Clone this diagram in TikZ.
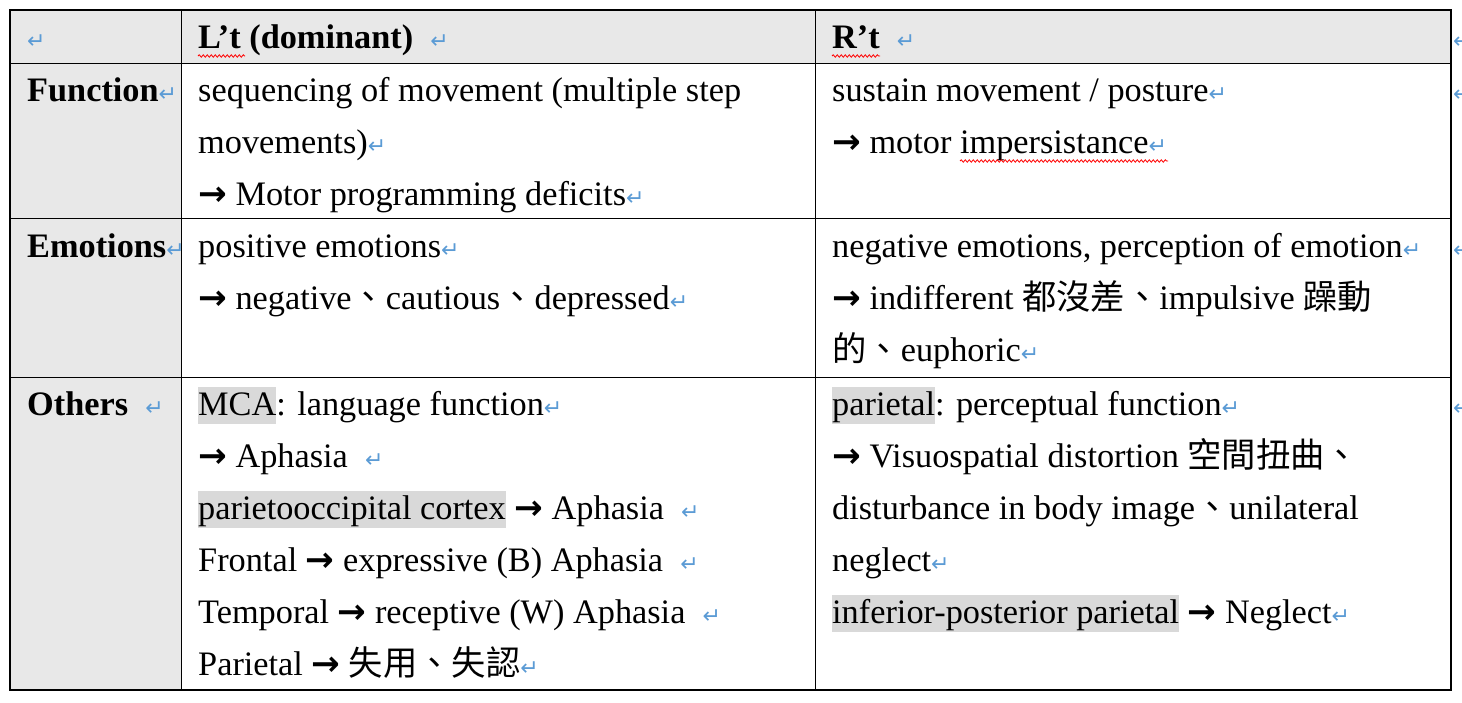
\documentclass[tikz,border=0pt]{standalone}
\usepackage{fontspec}
\setmainfont{Liberation Serif}
\newfontfamily\dejavu{DejaVu Sans}
\newfontfamily\cjk{Noto Sans CJK TC}
\usetikzlibrary{decorations.pathmorphing}
\definecolor{hdrgray}{HTML}{E8E8E8}
\definecolor{hlgray}{HTML}{D9D9D9}
\definecolor{retblue}{HTML}{5B9BD5}
\newcommand{\ret}{\textcolor{retblue}{\dejavu\fontsize{22}{22}\selectfont ↵}}
\newcommand{\ar}{{\dejavu\bfseries →}}
\newcommand{\hlx}[1]{{\setlength{\fboxsep}{0pt}\colorbox{hlgray}{\rule[-9pt]{0pt}{37pt}#1}}}
\begin{document}
\begin{tikzpicture}[x=1pt,y=-1pt,
  txt/.style={anchor=base west,inner sep=0pt,font=\fontsize{34.3}{40}\selectfont},
  wavy/.style={draw=red,line width=0.8pt,decorate,decoration={snake,amplitude=1.2pt,segment length=4pt}}]
\useasboundingbox (0,0) rectangle (1462,702);
\fill[white] (0,0) rectangle (1462,702);
\fill[hdrgray] (10,10) rectangle (1451,63);
\fill[hdrgray] (10,63) rectangle (181,690);
\draw[line width=1.2pt] (10,10) rectangle (1451,690);
\draw[line width=1pt] (10,63) -- (1451,63) (10,218) -- (1451,218) (10,377) -- (1451,377)
  (181,10) -- (181,690) (815,10) -- (815,690);
% header
\node[txt] (h0) at (27,48) {\ret};
\node[txt] (h1) at (198,48) {\textbf{L’t (dominant)}\ \ \ret};
\node[txt] (h2) at (832,48) {\textbf{R’t}\ \ \ret};
\draw[wavy] (198,56) -- (245,56);
\draw[wavy] (832,56) -- (880,56);
% row labels
\node[txt] (r1) at (27,101) {\textbf{Function}\ret};
\node[txt] (r2) at (27,257) {\textbf{Emotions}\ret};
\node[txt] (r3) at (27,415) {\textbf{Others}\ \ \ret};
% row 1
\node[txt] (a1) at (198,101) {sequencing of movement (multiple step};
\node[txt] (a2) at (198,153) {movements)\ret};
\node[txt] (a3) at (198,205) {\ar\ Motor programming deficits\ret};
\node[txt] (b1) at (832,101) {sustain movement / posture\ret};
\node[txt] (b2) at (832,153) {\ar\ motor impersistance\ret};
\draw[wavy] (960,161) -- (1168,161);
% row 2
\node[txt] (c1) at (198,257) {positive emotions\ret};
\node[txt] (c2) at (198,309) {\ar\ negative{\cjk 、}cautious{\cjk 、}depressed\ret};
\node[txt] (d1) at (832,257) {negative emotions, perception of emotion\ret};
\node[txt] (d2) at (832,309) {\ar\ indifferent {\cjk 都沒差、}impulsive {\cjk 躁動}};
\node[txt] (d3) at (832,361) {{\cjk 的、}euphoric\ret};
% row 3
\node[txt] (e1) at (198,415) {\hlx{MCA}: language function\ret};
\node[txt] (e2) at (198,467) {\ar\ Aphasia\ \ \ret};
\node[txt] (e3) at (198,519) {\hlx{parietooccipital cortex} \ar\ Aphasia\ \ \ret};
\node[txt] (e4) at (198,571) {Frontal \ar\ expressive (B) Aphasia\ \ \ret};
\node[txt] (e5) at (198,623) {Temporal \ar\ receptive (W) Aphasia\ \ \ret};
\node[txt] (e6) at (198,675) {Parietal \ar\ {\cjk 失用、失認}\ret};
\node[txt] (f1) at (832,415) {\hlx{parietal}: perceptual function\ret};
\node[txt] (f2) at (832,467) {\ar\ Visuospatial distortion {\cjk 空間扭曲、}};
\node[txt] (f3) at (832,519) {disturbance in body image{\cjk 、}unilateral};
\node[txt] (f4) at (832,571) {neglect\ret};
\node[txt] (f5) at (832,623) {\hlx{inferior-posterior parietal} \ar\ Neglect\ret};
% right edge marks (cut by the page edge, as in the reference)
\foreach \yy [count=\i] in {48,101,257,415} \node[txt] (m\i) at (1453,\yy) {\ret};
\end{tikzpicture}
\end{document}
